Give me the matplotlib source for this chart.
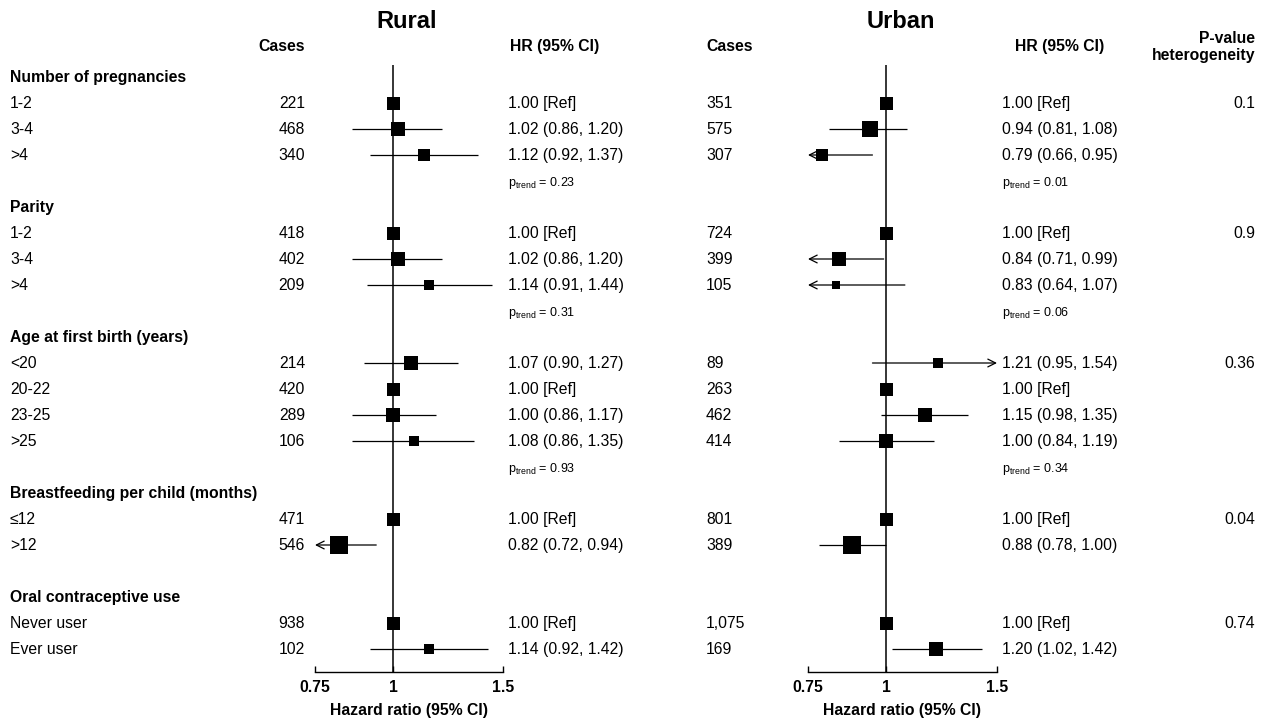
import numpy as np
import matplotlib
matplotlib.use("Agg")
import matplotlib.pyplot as plt
import matplotlib.transforms as mtransforms

nan = np.nan

# ---------------- data ----------------
groups = ["Number of pregnancies", "Parity", "Age at first birth (years)",
          "Breastfeeding per child (months)", "Oral contraceptive use"]
group_items = [["1-2", "3-4", ">4"],
               ["1-2", "3-4", ">4"],
               ["<20", "20-22", "23-25", ">25"],
               ["\u226412", ">12"],
               ["Never user", "Ever user"]]

rural_cases = [221, 468, 340, 418, 402, 209, 214, 420, 289, 106, 471, 546, 938, 102]
rural_hr = [1.00, 1.02, 1.12, 1.00, 1.02, 1.14, 1.07, 1.00, 1.00, 1.08, 1.00, 0.82, 1.00, 1.14]
rural_lo = [nan, 0.86, 0.92, nan, 0.86, 0.91, 0.90, nan, 0.86, 0.86, nan, 0.72, nan, 0.92]
rural_hi = [nan, 1.20, 1.37, nan, 1.20, 1.44, 1.27, nan, 1.17, 1.35, nan, 0.94, nan, 1.42]

urban_cases = [351, 575, 307, 724, 399, 105, 89, 263, 462, 414, 801, 389, 1075, 169]
urban_hr = [1.00, 0.94, 0.79, 1.00, 0.84, 0.83, 1.21, 1.00, 1.15, 1.00, 1.00, 0.88, 1.00, 1.20]
urban_lo = [nan, 0.81, 0.66, nan, 0.71, 0.64, 0.95, nan, 0.98, 0.84, nan, 0.78, nan, 1.02]
urban_hi = [nan, 1.08, 0.95, nan, 0.99, 1.07, 1.54, nan, 1.35, 1.19, nan, 1.00, nan, 1.42]

rural_ptrend = ["0.23", "0.31", "0.93", None, None]
urban_ptrend = ["0.01", "0.06", "0.34", None, None]
p_het = ["0.1", "0.9", "0.36", "0.04", "0.74"]

x_ticks = [0.75, 1, 1.5]
x_ticklabels = ["0.75", "1", "1.5"]

# ---------------- style ----------------
plt.rcParams["font.family"] = ["Liberation Sans", "DejaVu Sans"]
plt.rcParams["mathtext.fontset"] = "custom"
plt.rcParams["mathtext.rm"] = "Liberation Sans"
plt.rcParams["mathtext.it"] = "Liberation Sans:italic"
plt.rcParams["mathtext.bf"] = "Liberation Sans:bold"

W, H = 1266, 721
fig = plt.figure(figsize=(W / 100, H / 100), dpi=100)

FS = 11.3
ROW0_PX, ROW_PX = 77.0, 26.0
TOP_PX, BOT_PX = 65.0, 672.0
ylim = ((BOT_PX - ROW0_PX) / ROW_PX, (TOP_PX - ROW0_PX) / ROW_PX)


def make_ax(x0, x1):
    ax = fig.add_axes([x0 / W, 1 - BOT_PX / H, (x1 - x0) / W, (BOT_PX - TOP_PX) / H])
    ax.set_xscale("log")
    ax.set_xlim(x_ticks[0], x_ticks[-1])
    ax.set_ylim(*ylim)
    for s in ["top", "right", "left"]:
        ax.spines[s].set_visible(False)
    ax.spines["bottom"].set_linewidth(1.0)
    ax.set_yticks([])
    ax.xaxis.set_minor_locator(matplotlib.ticker.NullLocator())
    ax.set_xticks(x_ticks)
    ax.set_xticklabels(x_ticklabels, fontsize=FS, fontweight="bold")
    ax.tick_params(axis="x", direction="in", length=4, width=1.0, pad=5.5)
    ax.axvline(1, color="black", lw=1.1, zorder=1)
    ax.patch.set_alpha(0)
    return ax


ax_r = make_ax(315, 503)
ax_u = make_ax(808, 997)

# rows
header_rows, item_rows, extra_rows = [], [], []
r = 0
for g, items in enumerate(groups):
    header_rows.append(r)
    r += 1
    rows_g = []
    for _ in group_items[g]:
        rows_g.append(r)
        r += 1
    item_rows.append(rows_g)
    if g < len(groups) - 1:
        extra_rows.append(r)
        r += 1
    else:
        extra_rows.append(None)
flat_rows = [rr for rows_g in item_rows for rr in rows_g]
flat_labels = [lab for items in group_items for lab in items]

trans = mtransforms.blended_transform_factory(fig.transFigure, ax_r.transData)
BASE = 0.21  # baseline offset in rows (half cap height)


def txt(xpx, row, s, **kw):
    kw.setdefault("fontsize", FS)
    fig.text(xpx / W, row + BASE, s, transform=trans, va="baseline", **kw)


def draw_panel(ax, hr, lo, hi):
    xmin, xmax = x_ticks[0], x_ticks[-1]
    for i, row in enumerate(flat_rows):
        if np.isnan(lo[i]):
            side = 13.0
        else:
            se = (np.log(hi[i]) - np.log(lo[i])) / (2 * 1.96)
            side = 1.16 / se
            a, b = max(lo[i], xmin), min(hi[i], xmax)
            ap = dict(arrowstyle="->", lw=0.9, color="black", shrinkA=0, shrinkB=0,
                      mutation_scale=14)
            if lo[i] < xmin:
                ax.annotate("", xy=(a, row), xytext=(b, row), arrowprops=ap,
                            annotation_clip=False, zorder=2)
            elif hi[i] > xmax:
                ax.annotate("", xy=(b, row), xytext=(a, row), arrowprops=ap,
                            annotation_clip=False, zorder=2)
            else:
                ax.plot([a, b], [row, row], color="black", lw=0.9, zorder=2,
                        solid_capstyle="butt")
        ax.plot(hr[i], row, marker="s", ms=side * 0.72, color="black", mew=0,
                zorder=3, clip_on=False)


draw_panel(ax_r, rural_hr, rural_lo, rural_hi)
draw_panel(ax_u, urban_hr, urban_lo, urban_hi)


def hr_text(h, l, u):
    if np.isnan(l):
        return f"{h:.2f} [Ref]"
    return f"{h:.2f} ({l:.2f}, {u:.2f})"


# headers / titles
fig.text(407 / W, 1 - 22 / H, "Rural", fontsize=17, fontweight="bold", ha="center", va="center")
fig.text(901 / W, 1 - 22 / H, "Urban", fontsize=17, fontweight="bold", ha="center", va="center")
hdr_row = (46 - ROW0_PX) / ROW_PX
txt(305, hdr_row, "Cases", ha="right", fontweight="bold")
txt(510, hdr_row, "HR (95% CI)", ha="left", fontweight="bold")
txt(706, hdr_row, "Cases", ha="left", fontweight="bold")
txt(1015, hdr_row, "HR (95% CI)", ha="left", fontweight="bold")
txt(1255, (38 - ROW0_PX) / ROW_PX, "P-value", ha="right", fontweight="bold")
txt(1255, (55 - ROW0_PX) / ROW_PX, "heterogeneity", ha="right", fontweight="bold")

for g, name in enumerate(groups):
    txt(10, header_rows[g], name, ha="left", fontweight="bold")
    txt(1255, item_rows[g][0], p_het[g], ha="right")
    if rural_ptrend[g] is not None:
        txt(508, extra_rows[g], r"p$_{\mathrm{trend}}$ = " + rural_ptrend[g], ha="left", fontsize=9)
    if urban_ptrend[g] is not None:
        txt(1002, extra_rows[g], r"p$_{\mathrm{trend}}$ = " + urban_ptrend[g], ha="left", fontsize=9)

for i, row in enumerate(flat_rows):
    txt(10, row, flat_labels[i], ha="left")
    txt(305, row, f"{rural_cases[i]:,}", ha="right")
    txt(508, row, hr_text(rural_hr[i], rural_lo[i], rural_hi[i]), ha="left")
    txt(706, row, f"{urban_cases[i]:,}", ha="left")
    txt(1002, row, hr_text(urban_hr[i], urban_lo[i], urban_hi[i]), ha="left")

fig.text(409 / W, 1 - 711 / H, "Hazard ratio (95% CI)", fontsize=FS, fontweight="bold",
         ha="center", va="center")
fig.text(902 / W, 1 - 711 / H, "Hazard ratio (95% CI)", fontsize=FS, fontweight="bold",
         ha="center", va="center")

fig.savefig("out.png", dpi=100, facecolor="white")
